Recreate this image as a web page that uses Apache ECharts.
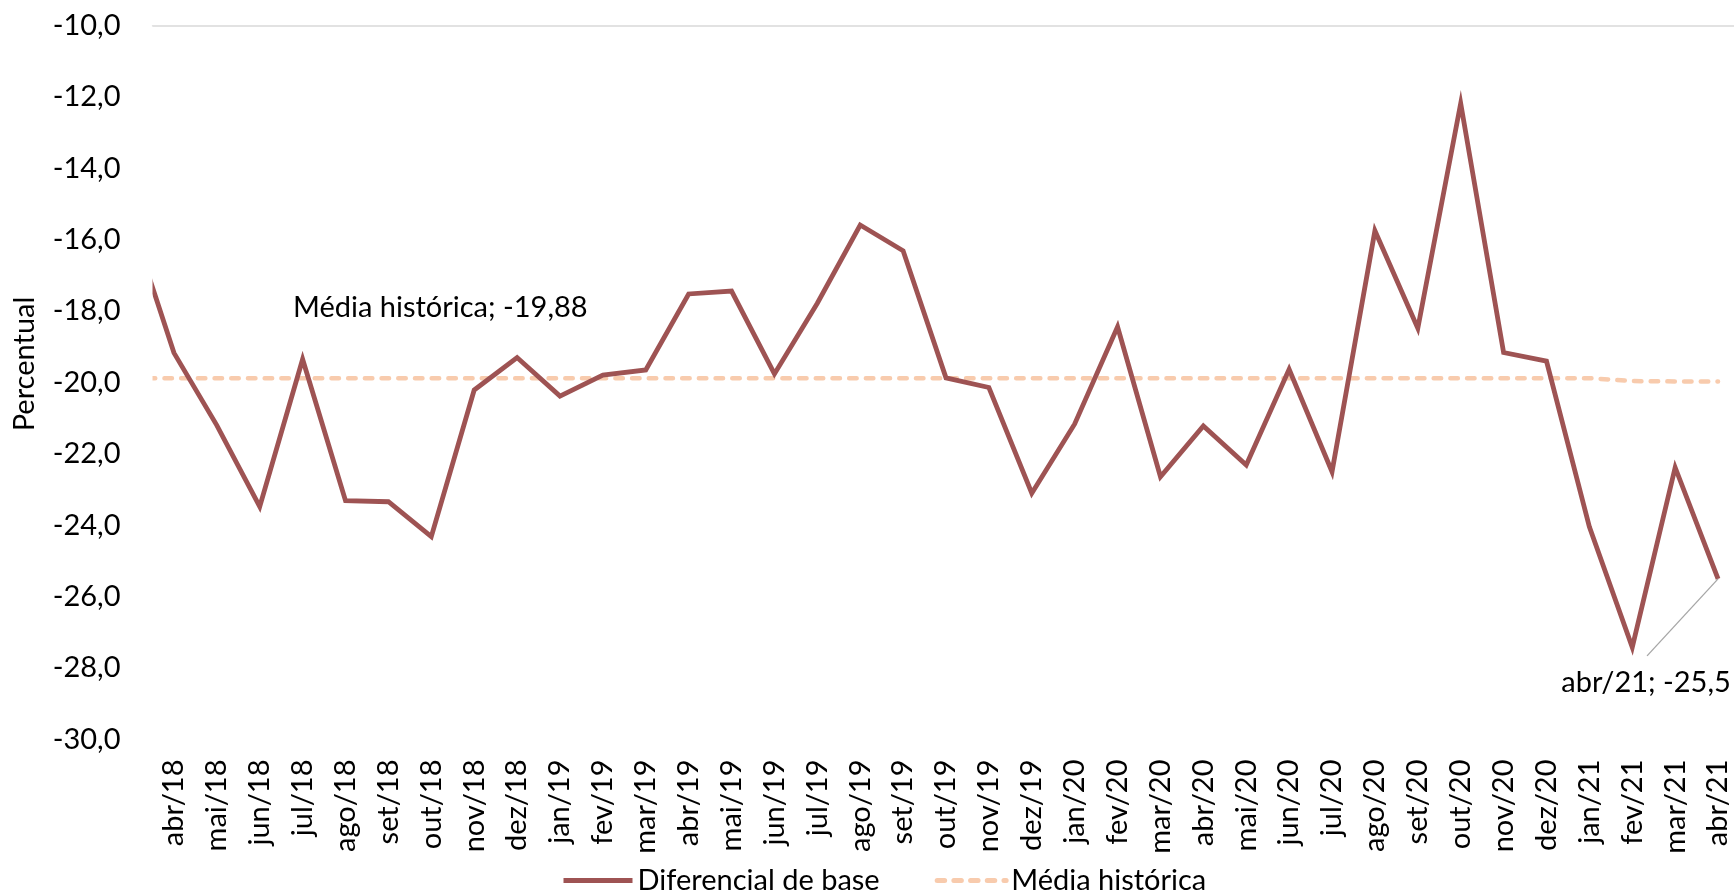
<!DOCTYPE html>
<html>
<head>
<meta charset="utf-8">
<script src="https://cdn.jsdelivr.net/npm/echarts@6/dist/echarts.min.js"></script>
<style>
html,body{margin:0;padding:0;background:#fff;}
#chart{width:1734px;height:891px;}
</style>
</head>
<body>
<div id="chart"></div>
<script>
// ---- data ----
const categories = ['abr/18','mai/18','jun/18','jul/18','ago/18','set/18','out/18','nov/18','dez/18',
  'jan/19','fev/19','mar/19','abr/19','mai/19','jun/19','jul/19','ago/19','set/19','out/19','nov/19','dez/19',
  'jan/20','fev/20','mar/20','abr/20','mai/20','jun/20','jul/20','ago/20','set/20','out/20','nov/20','dez/20',
  'jan/21','fev/21','mar/21','abr/21'];

const diferencial = [-19.17,-21.2,-23.48,-19.35,-23.31,-23.34,-24.32,-20.21,-19.30,
  -20.38,-19.79,-19.65,-17.52,-17.44,-19.76,-17.78,-15.59,-16.31,-19.87,-20.14,-23.10,
  -21.16,-18.44,-22.64,-21.22,-22.31,-19.63,-22.50,-15.75,-18.48,-12.18,-19.16,-19.40,
  -24.04,-27.42,-22.38,-25.50];

const mediaHistorica = [-19.88,-19.88,-19.88,-19.88,-19.88,-19.88,-19.88,-19.88,-19.88,
  -19.88,-19.88,-19.88,-19.88,-19.88,-19.88,-19.88,-19.88,-19.88,-19.88,-19.88,-19.88,
  -19.88,-19.88,-19.88,-19.88,-19.88,-19.88,-19.88,-19.88,-19.88,-19.88,-19.88,-19.88,
  -19.88,-19.96,-19.97,-19.97];

// month before the visible window (line enters clipped from the left edge)
const priorCategory = 'mar/18';
const priorDiferencial = -15.5;
const priorMedia = -19.88;

const seriesNames = ['Diferencial de base', 'Média histórica'];
const yAxisTitle = 'Percentual';
const yMin = -30, yMax = -10, yStep = 2;
const mediaLabelIndex = 6;                       // point the "Média histórica" label is attached to
const lastLabelIndex = categories.length - 1;    // point the "abr/21" label is attached to

// ---- chart ----
const FONT = 'Lato';
const FS = 29;
const MAIN_COLOR = '#9e5353';
const MEDIA_COLOR = '#f8cbad';
const fmt = (v, d) => v.toFixed(d).replace('.', ',');

const diffData = [[-1, priorDiferencial]].concat(diferencial.map((v, i) => [i, v]));

const mediaData = [[-1, priorMedia]].concat(mediaHistorica.map((v, i) => {
  if (i === mediaLabelIndex) {
    return {
      value: [i, v],
      symbol: 'circle', symbolSize: 1,
      label: {
        show: true, position: 'inside', offset: [9, -71],
        formatter: seriesNames[1] + '; ' + fmt(v, 2),
        fontFamily: FONT, fontSize: FS, color: '#000'
      }
    };
  }
  return [i, v];
}));

const chart = echarts.init(document.getElementById('chart'), null, { renderer: 'canvas' });
chart.setOption({
  animation: false,
  backgroundColor: '#fff',
  grid: { left: 152.5, right: -5.5, top: 25.5, bottom: 151.5, containLabel: false, outerBoundsMode: 'none' },
  legend: {
    data: seriesNames,
    left: 556, top: 861,
    itemWidth: 69, itemHeight: 30, itemGap: 55,
    itemStyle: { opacity: 0 },
    lineStyle: { width: 5 },
    textStyle: { fontFamily: FONT, fontSize: FS, color: '#000' }
  },
  xAxis: [
    {
      type: 'category', data: categories, boundaryGap: true, position: 'bottom',
      axisLine: { show: false, onZero: false }, axisTick: { show: false }, splitLine: { show: false },
      axisLabel: { interval: 0, rotate: 90, margin: 20, fontFamily: FONT, fontSize: FS, color: '#000' }
    },
    {
      type: 'value', min: -0.5, max: categories.length - 0.5, position: 'top',
      axisLine: { show: true, onZero: false, lineStyle: { color: '#d9d9d9', width: 1.5 } },
      axisTick: { show: false }, axisLabel: { show: false }, splitLine: { show: false }
    }
  ],
  yAxis: {
    type: 'value', min: yMin, max: yMax, interval: yStep,
    axisLine: { show: false }, axisTick: { show: false }, splitLine: { show: false },
    axisLabel: { margin: 32, fontFamily: FONT, fontSize: FS, color: '#000', formatter: v => fmt(v, 1) }
  },
  series: [
    {
      name: seriesNames[0], type: 'line', xAxisIndex: 1, data: diffData,
      symbol: 'none', showSymbol: true, clip: true,
      lineStyle: { color: MAIN_COLOR, width: 4.8, join: 'miter' },
      itemStyle: { color: MAIN_COLOR },
      emphasis: { disabled: true }, z: 3
    },
    {
      name: seriesNames[1], type: 'line', xAxisIndex: 1, data: mediaData,
      symbol: 'none', showSymbol: true, clip: true,
      lineStyle: { color: MEDIA_COLOR, width: 4.5, type: [7.5, 9.2], cap: 'round' },
      itemStyle: { color: MEDIA_COLOR },
      emphasis: { disabled: true }, z: 2
    }
  ]
});

// plot-area edges and last point in pixels
const edgeTL = chart.convertToPixel({ xAxisIndex: 1, yAxisIndex: 0 }, [-0.5, yMax]);
const edgeBL = chart.convertToPixel({ xAxisIndex: 1, yAxisIndex: 0 }, [-0.5, yMin]);
const lastPt = chart.convertToPixel({ xAxisIndex: 1, yAxisIndex: 0 }, [lastLabelIndex, diferencial[lastLabelIndex]]);

chart.setOption({
  graphic: [
    // hide the few pixels the library's clip margin lets through left of the plot edge
    {
      type: 'rect', z: 50, silent: true,
      shape: { x: edgeTL[0] - 26, y: edgeTL[1] + 1, width: 26, height: edgeBL[1] - edgeTL[1] + 8 },
      style: { fill: '#fff' }
    },
    {
      type: 'text', x: 24.5, y: 364, rotation: Math.PI / 2,
      style: { text: yAxisTitle, textAlign: 'center', textVerticalAlign: 'middle', align: 'center', verticalAlign: 'middle',
               fontFamily: FONT, fontSize: FS, fill: '#000' }
    },
    {
      type: 'line', z: 10,
      shape: { x1: lastPt[0] - 71, y1: lastPt[1] + 77, x2: lastPt[0], y2: lastPt[1] },
      style: { stroke: '#a6a6a6', lineWidth: 1.3 }
    },
    {
      type: 'text', z: 10, x: lastPt[0] - 72, y: lastPt[1] + 103.5,
      style: { text: categories[lastLabelIndex] + '; ' + fmt(diferencial[lastLabelIndex], 1),
               textAlign: 'center', textVerticalAlign: 'middle', align: 'center', verticalAlign: 'middle',
               fontFamily: FONT, fontSize: FS, fill: '#000' }
    }
  ]
});
</script>
</body>
</html>
